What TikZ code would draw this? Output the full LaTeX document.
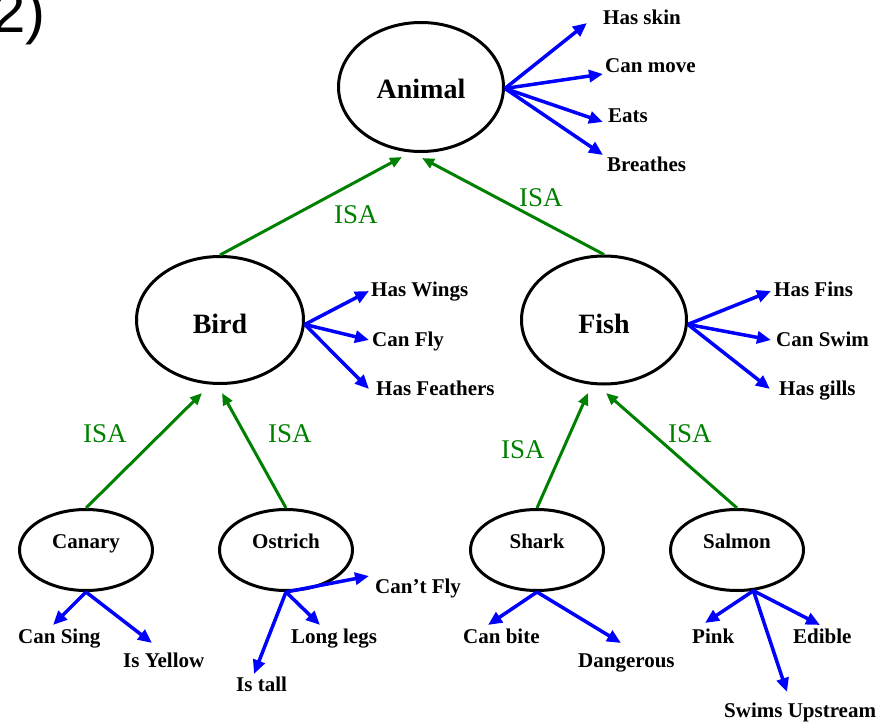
\documentclass[tikz,border=0pt]{standalone}
\usepackage{fontspec}
\setmainfont{Liberation Serif}
\newfontfamily\numfont{Liberation Sans}
\usetikzlibrary{arrows.meta,shapes.geometric}
\definecolor{propblue}{RGB}{0,0,255}
\definecolor{isagreen}{RGB}{0,128,0}
\begin{document}
\begin{tikzpicture}[x=1pt,y=-1pt,
  bigconcept/.style={draw,ellipse,line width=3pt,inner sep=0pt,
    font=\fontsize{28}{28}\selectfont\bfseries,text height=24pt,text depth=0pt},
  smallconcept/.style={draw,ellipse,line width=3pt,inner sep=0pt,
    minimum width=133pt,minimum height=81pt,
    font=\fontsize{21}{21}\selectfont\bfseries,text height=0pt,text depth=4pt},
  prop/.style={font=\fontsize{21}{21}\selectfont\bfseries,inner sep=0pt,anchor=base west},
  isatext/.style={font=\fontsize{27}{27}\selectfont,text=isagreen,inner sep=0pt,anchor=base west},
  proparrow/.style={draw=propblue,line width=3.5pt,-{Triangle[length=14pt,width=12pt]}},
  isaarrow/.style={draw=isagreen,line width=3pt,-{Triangle[length=12pt,width=10pt]}}]
\useasboundingbox (0,0) rectangle (892,722);

% title
\node[font=\numfont\fontsize{60}{60}\selectfont,anchor=base west,inner sep=0pt] (num) at (-8,33) {2)};

% concept nodes
\node[bigconcept,minimum width=165pt,minimum height=129pt] (animal) at (421,87) {Animal};
\node[bigconcept,minimum width=167pt,minimum height=127pt,text height=26pt] (bird) at (220,320) {Bird};
\node[bigconcept,minimum width=165pt,minimum height=128pt,text height=26pt] (fish) at (604,320) {Fish};
\node[smallconcept] (canary) at (86,550) {Canary};
\node[smallconcept] (ostrich) at (286,550) {Ostrich};
\node[smallconcept] (shark) at (537,550) {Shark};
\node[smallconcept] (salmon) at (737,550) {Salmon};

% property labels
\node[prop] (hasskin) at (603,25) {Has skin};
\node[prop] (canmove) at (605,73) {Can move};
\node[prop] (eats) at (608,123) {Eats};
\node[prop] (breathes) at (607,172) {Breathes};
\node[prop] (haswings) at (371,296) {Has Wings};
\node[prop] (canfly) at (372,346) {Can Fly};
\node[prop] (hasfeathers) at (376,395) {Has Feathers};
\node[prop] (hasfins) at (774,296) {Has Fins};
\node[prop] (canswim) at (776,346) {Can Swim};
\node[prop] (hasgills) at (779,395) {Has gills};
\node[prop] (cansing) at (18,643) {Can Sing};
\node[prop] (isyellow) at (123,667) {Is Yellow};
\node[prop] (cantfly) at (375,593) {Can’t Fly};
\node[prop] (longlegs) at (291,643) {Long legs};
\node[prop] (istall) at (236,691) {Is tall};
\node[prop] (canbite) at (463,643) {Can bite};
\node[prop] (dangerous) at (578,667) {Dangerous};
\node[prop] (pink) at (692,643) {Pink};
\node[prop] (edible) at (793,643) {Edible};
\node[prop] (swims) at (724,717) {Swims Upstream};

% ISA labels
\node[isatext] (isa1) at (334,224) {ISA};
\node[isatext] (isa2) at (519,207) {ISA};
\node[isatext] (isa3) at (83,442) {ISA};
\node[isatext] (isa4) at (268,442) {ISA};
\node[isatext] (isa5) at (501,458) {ISA};
\node[isatext] (isa6) at (668,442) {ISA};

% arrow tip points
\coordinate (tskin) at (587,23);
\coordinate (tmove) at (603,74);
\coordinate (teats) at (603,122);
\coordinate (tbreathes) at (603,155);
\coordinate (twings) at (369,291);
\coordinate (tfly) at (369,340);
\coordinate (tfeathers) at (369,389);
\coordinate (tfins) at (771,291);
\coordinate (tswim) at (771,340);
\coordinate (tgills) at (770,389);
\coordinate (tsing) at (53,625);
\coordinate (tyellow) at (152,643);
\coordinate (tcantfly) at (369,576);
\coordinate (tlegs) at (320,625);
\coordinate (ttall) at (254,674);
\coordinate (tbite) at (488,625);
\coordinate (tdanger) at (621,643);
\coordinate (tpink) at (705,623);
\coordinate (tedible) at (820,625);
\coordinate (tswims) at (787,692);
\coordinate (aL) at (402,157);
\coordinate (aR) at (422,158);
\coordinate (bL) at (202,393);
\coordinate (bR) at (222,393);
\coordinate (fL) at (588,393);
\coordinate (fR) at (606,393);

% property arrows
\draw[proparrow] (animal.-1) -- (tskin);
\draw[proparrow] (animal.-1) -- (tmove);
\draw[proparrow] (animal.-1) -- (teats);
\draw[proparrow] (animal.-1) -- (tbreathes);
\draw[proparrow] (bird.-3) -- (twings);
\draw[proparrow] (bird.-3) -- (tfly);
\draw[proparrow] (bird.-3) -- (tfeathers);
\draw[proparrow] (fish.-3) -- (tfins);
\draw[proparrow] (fish.-3) -- (tswim);
\draw[proparrow] (fish.-3) -- (tgills);
\draw[proparrow] (canary.south) -- (tsing);
\draw[proparrow] (canary.south) -- (tyellow);
\draw[proparrow] (ostrich.south) -- (tcantfly);
\draw[proparrow] (ostrich.south) -- (tlegs);
\draw[proparrow] (ostrich.south) -- (ttall);
\draw[proparrow] (shark.south) -- (tbite);
\draw[proparrow] (shark.south) -- (tdanger);
\draw[proparrow] (salmon.-68) -- (tpink);
\draw[proparrow] (salmon.-68) -- (tedible);
\draw[proparrow] (salmon.-68) -- (tswims);

% ISA arrows
\draw[isaarrow] (bird.north) -- (aL);
\draw[isaarrow] (fish.north) -- (aR);
\draw[isaarrow] (canary.north) -- (bL);
\draw[isaarrow] (ostrich.north) -- (bR);
\draw[isaarrow] (shark.north) -- (fL);
\draw[isaarrow] (salmon.north) -- (fR);
\end{tikzpicture}
\end{document}
